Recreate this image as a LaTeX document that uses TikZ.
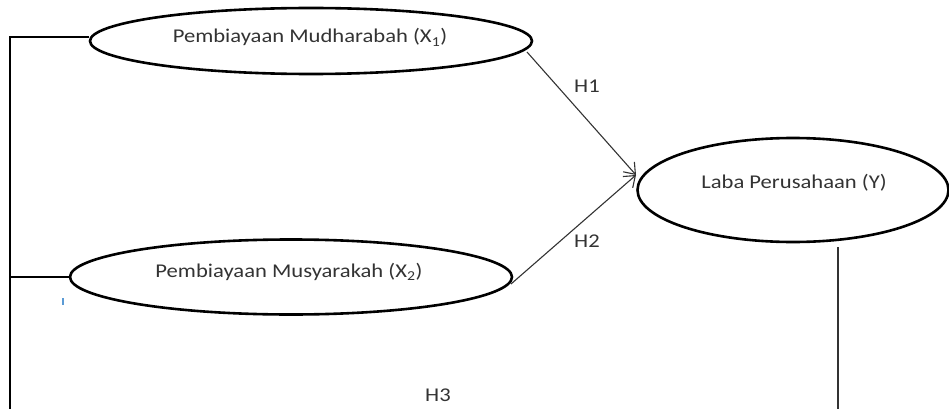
\documentclass[tikz,border=0pt]{standalone}
\usepackage{fontspec}
\setmainfont{Carlito}
\usetikzlibrary{shapes.geometric,arrows.meta}
\tikzset{
  oval/.style={ellipse, draw=black, line width=2.6pt, inner sep=0pt},
  lbl/.style={anchor=base, inner sep=0pt, font=\fontsize{19.5}{21}\selectfont, text=black!80},
  conn/.style={draw=black!80, line width=1.1pt},
  arr/.style={conn, -{Straight Barb[length=10pt,width=15pt,line width=1.1pt]}},
}
\newcommand{\wide}[1]{\scalebox{1.16}[1]{#1}}
\begin{document}
\begin{tikzpicture}[x=1pt,y=-1pt]
\useasboundingbox (0,0) rectangle (949,409);
% ellipses
\node[oval, minimum width=442pt, minimum height=66pt] (X1) at (311,41) {};
\node[oval, minimum width=442pt, minimum height=75pt] (X2) at (291,277) {};
\node[oval, minimum width=311pt, minimum height=104pt] (Y) at (793,190) {};
% texts
\node[lbl] (tX1) at (310,43) {\wide{Pembiayaan Mudharabah (X\textsubscript{1})}};
\node[lbl] (tX2) at (289,277) {\wide{Pembiayaan Musyarakah (X\textsubscript{2})}};
\node[lbl] (tY) at (794,188) {\wide{Laba Perusahaan (Y)}};
\node[lbl] (h1) at (587,93) {\wide{H1}};
\node[lbl] (h2) at (587,247) {\wide{H2}};
\node[lbl] (h3) at (438,401) {\wide{H3}};
% free ends
\coordinate (lt) at (10,37);
\coordinate (lb) at (10,409);
\coordinate (rt) at (838,247);
\coordinate (rb) at (838,409);
\coordinate (s1) at (527,52);
\coordinate (s2) at (511,284);
\coordinate (tip) at (636,175);
\coordinate (tk1) at (63,298);
\coordinate (tk2) at (63,305);
% connectors
\draw[conn, draw=black] (lb) -- (lt) -- (lt -| X1.west);
\draw[conn, draw=black] (X2.west -| lt) -- (X2.west);
\draw[conn] (rt) -- (rb);
\draw[arr] (s1) -- (tip);
\draw[arr] (s2) -- (tip);
\draw[draw={rgb,255:red,91;green,155;blue,213}, line width=1.2pt] (tk1) -- (tk2);
\end{tikzpicture}
\end{document}
